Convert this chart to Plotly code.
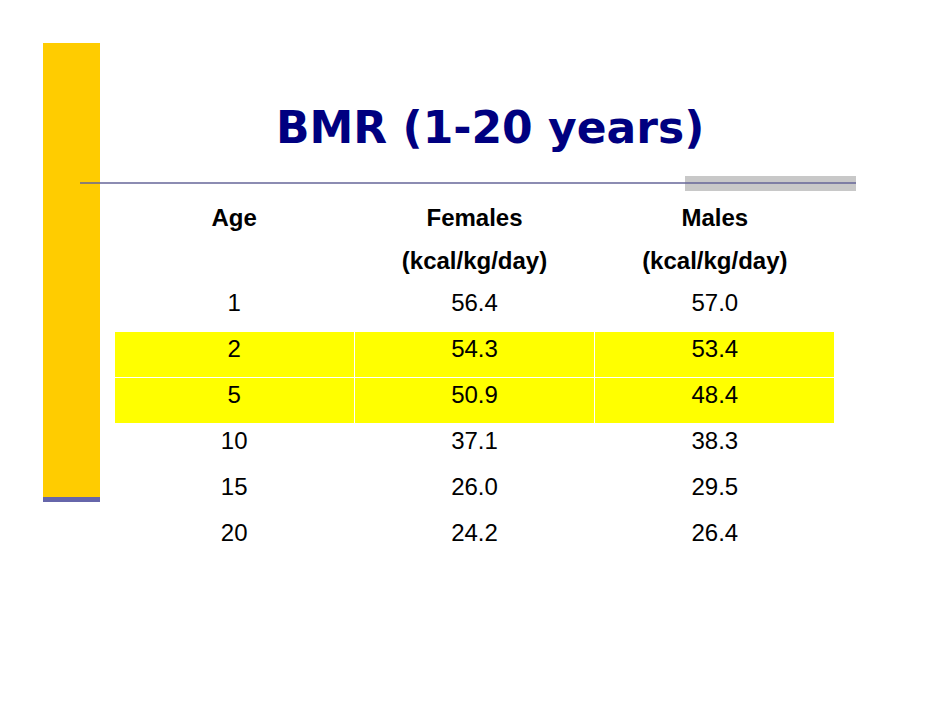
import plotly.graph_objects as go

W, H = 942, 728
OFF = 8  # page body margin in the browser

ages = ["1", "2", "5", "10", "15", "20"]
females = ["56.4", "54.3", "50.9", "37.1", "26.0", "24.2"]
males = ["57.0", "53.4", "48.4", "38.3", "29.5", "26.4"]
headers = ["<b>Age</b>", "<b>Females</b>", "<b>Males</b>"]
units = ["", "<b>(kcal/kg/day)</b>", "<b>(kcal/kg/day)</b>"]
highlight = ["2", "5"]


def fx(x):
    return (x - OFF) / W


def fy(y):
    return 1 - (y - OFF) / H


row_fill = ["white"] + ["#FFFF00" if a in highlight else "white" for a in ages]
col_values = [[u] + list(c) for u, c in zip(units, [ages, females, males])]

fig = go.Figure(
    go.Table(
        domain=dict(x=[fx(114), fx(835)], y=[fy(580), fy(196)]),
        columnwidth=[1, 1, 1],
        header=dict(
            values=headers,
            fill_color="white",
            line_color="white",
            align="center",
            height=40,
            font=dict(family="Liberation Sans", size=24, color="black"),
        ),
        cells=dict(
            values=col_values,
            fill_color=[row_fill] * 3,
            line=dict(color="white", width=1),
            align="center",
            height=46,
            font=dict(family="Liberation Sans", size=24, color="black"),
        ),
    )
)

shapes = [
    dict(type="rect", xref="paper", yref="paper", x0=fx(43), x1=fx(100),
         y0=fy(500), y1=fy(43), fillcolor="#FFCC00", line_width=0),
    dict(type="rect", xref="paper", yref="paper", x0=fx(43), x1=fx(100),
         y0=fy(502), y1=fy(497), fillcolor="#6666AA", line_width=0),
    dict(type="rect", xref="paper", yref="paper", x0=fx(685), x1=fx(856),
         y0=fy(191), y1=fy(176), fillcolor="#C8C8C8", line_width=0),
    dict(type="line", xref="paper", yref="paper", x0=fx(80), x1=fx(856),
         y0=fy(183), y1=fy(183), line=dict(color="#666699", width=1.5)),
]

fig.update_layout(
    width=W, height=H,
    margin=dict(l=0, r=0, t=0, b=0),
    paper_bgcolor="white",
    plot_bgcolor="white",
    shapes=shapes,
    annotations=[dict(
        text="<b>BMR (1-20 years)</b>", xref="paper", yref="paper",
        x=fx(490), y=fy(128), xanchor="center", yanchor="middle", showarrow=False,
        font=dict(family="DejaVu Sans", size=44, color="#000080"),
    )],
)

fig.write_html("out.html")
